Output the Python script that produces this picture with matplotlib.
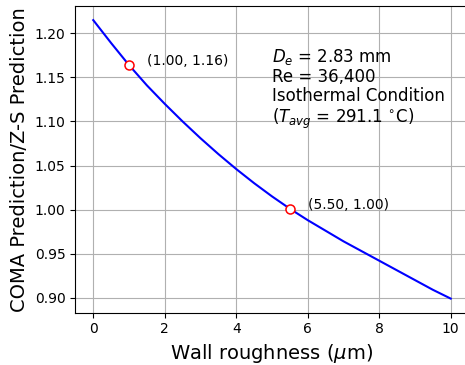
import numpy as np
from matplotlib import pyplot as plt

# Curve (wall roughness in um vs. ratio)
roughness = [0, 0.5, 1, 1.5, 2, 2.5, 3, 3.5, 4, 4.5, 5, 5.5, 6, 6.5, 7, 7.5, 8, 8.5, 9, 9.5, 10]
ratio = [1.215, 1.189, 1.164, 1.141, 1.120, 1.100, 1.081, 1.063, 1.046, 1.030, 1.015,
         1.001, 0.988, 0.976, 0.964, 0.953, 0.942, 0.931, 0.920, 0.909, 0.899]

# Marked points
mark_x = [1.00, 5.50]
mark_y = [1.164, 1.001]

info_lines = [r"$D_e$ = 2.83 mm", "Re = 36,400", "Isothermal Condition",
              r"($T_{avg}$ = 291.1 $^{\circ}$C)"]

fig = plt.figure(figsize=(4.65, 3.65), dpi=100)
ax = fig.add_axes([0.1621, 0.1438, 0.8456, 0.8392])

ax.plot(roughness, ratio, color='b', linewidth=1.5)
ax.plot(mark_x, mark_y, 'o', markersize=6.5, markerfacecolor='white',
        markeredgecolor='red', markeredgewidth=1.1)
for mx, my in zip(mark_x, mark_y):
    ax.annotate('(%.2f, %.2f)' % (mx, my), (mx, my), xytext=(13, 3),
                textcoords='offset points', va='center', fontsize=10)

ax.text(5.0, 1.184, "\n".join(info_lines), fontsize=12, va='top', ha='left',
        linespacing=1.07)

ax.set_xlim(-0.5, 10.5)
ax.set_ylim(0.8832, 1.2308)
ax.set_xticks([0, 2, 4, 6, 8, 10])
ax.set_yticks([0.90, 0.95, 1.00, 1.05, 1.10, 1.15, 1.20])
ax.yaxis.set_major_formatter(plt.FormatStrFormatter('%.2f'))
ax.grid(True)
ax.set_xlabel(r'Wall roughness ($\mu$m)', fontsize=14)
ax.set_ylabel('COMA Prediction/Z-S Prediction', fontsize=14)

plt.savefig("out.png", dpi=100)
